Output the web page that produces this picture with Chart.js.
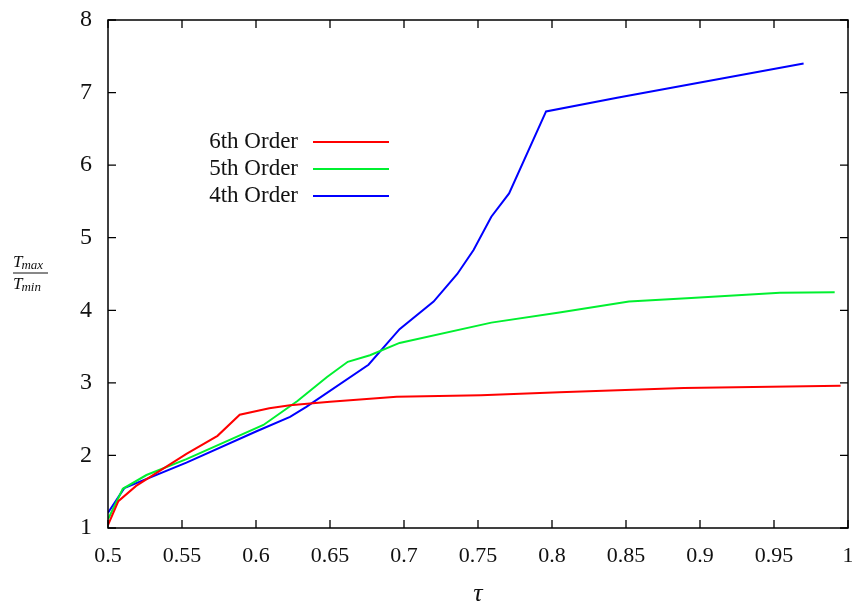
<!DOCTYPE html>
<html>
<head>
<meta charset="utf-8">
<title>Tmax/Tmin vs tau</title>
<script src="https://cdn.jsdelivr.net/npm/chart.js@4.4.0/dist/chart.umd.min.js"></script>
<style>
  html, body { margin: 0; padding: 0; background: #fff; }
  #wrap { width: 852px; height: 606px; position: relative; }
</style>
</head>
<body>
<div id="wrap"><canvas id="ratioChart"></canvas></div>
<script>
// tau values and Tmax/Tmin for each order
const tau6 = [0.500, 0.507, 0.519, 0.553, 0.574, 0.589, 0.609, 0.623, 0.650, 0.695, 0.752, 0.805, 0.889, 0.995];
const ratio6 = [1.04, 1.37, 1.58, 2.02, 2.27, 2.56, 2.65, 2.69, 2.74, 2.81, 2.83, 2.87, 2.93, 2.96];

const tau5 = [0.500, 0.510, 0.526, 0.553, 0.605, 0.628, 0.648, 0.662, 0.677, 0.697, 0.759, 0.805, 0.852, 0.894, 0.954, 0.991];
const ratio5 = [1.12, 1.54, 1.73, 1.95, 2.42, 2.75, 3.08, 3.29, 3.38, 3.55, 3.83, 3.97, 4.12, 4.17, 4.24, 4.25];

const tau4 = [0.500, 0.511, 0.553, 0.600, 0.623, 0.634, 0.676, 0.697, 0.720, 0.736, 0.747, 0.759, 0.771, 0.796, 0.844, 0.970];
const ratio4 = [1.21, 1.55, 1.90, 2.33, 2.53, 2.67, 3.25, 3.74, 4.12, 4.50, 4.83, 5.29, 5.61, 6.74, 6.93, 7.40];

const seriesNames = ['6th Order', '5th Order', '4th Order'];
const seriesColors = ['#ff0000', '#00f030', '#0000ff'];

const serif = '"Liberation Serif", "DejaVu Serif", serif';

function toPoints(xs, ys) {
    return xs.map((x, i) => ({ x: x, y: ys[i] }));
}

const data = {
    datasets: [
        { label: seriesNames[0], data: toPoints(tau6, ratio6), borderColor: seriesColors[0] },
        { label: seriesNames[1], data: toPoints(tau5, ratio5), borderColor: seriesColors[1] },
        { label: seriesNames[2], data: toPoints(tau4, ratio4), borderColor: seriesColors[2] }
    ].map(d => Object.assign(d, { borderWidth: 2, pointRadius: 0, tension: 0, fill: false }))
};

// box around the plot with inward ticks on all four sides
const frame = {
    id: 'frame',
    afterDraw(chart) {
        const { ctx, chartArea: a, scales } = chart;
        const len = 8;
        ctx.save();
        ctx.strokeStyle = '#000';
        ctx.lineWidth = 1.5;
        ctx.strokeRect(a.left, a.top, a.right - a.left, a.bottom - a.top);
        ctx.lineWidth = 1.3;
        ctx.beginPath();
        scales.x.ticks.forEach(t => {
            const px = scales.x.getPixelForValue(t.value);
            ctx.moveTo(px, a.bottom); ctx.lineTo(px, a.bottom - len);
            ctx.moveTo(px, a.top); ctx.lineTo(px, a.top + len);
        });
        scales.y.ticks.forEach(t => {
            const py = scales.y.getPixelForValue(t.value);
            ctx.moveTo(a.left, py); ctx.lineTo(a.left + len, py);
            ctx.moveTo(a.right, py); ctx.lineTo(a.right - len, py);
        });
        ctx.stroke();
        ctx.restore();
    }
};

// legend: right-aligned names followed by a line sample
const lineKey = {
    id: 'lineKey',
    afterDraw(chart) {
        const ctx = chart.ctx;
        ctx.save();
        ctx.font = '23px ' + serif;
        ctx.textAlign = 'right';
        ctx.textBaseline = 'middle';
        chart.data.datasets.forEach((ds, i) => {
            const y = 142 + i * 27;
            ctx.fillStyle = '#111';
            ctx.fillText(ds.label, 298, y);
            ctx.strokeStyle = ds.borderColor;
            ctx.lineWidth = 2;
            ctx.beginPath();
            ctx.moveTo(313, y);
            ctx.lineTo(389, y);
            ctx.stroke();
        });
        ctx.restore();
    }
};

// y axis title drawn as a fraction Tmax / Tmin
const ratioTitle = {
    id: 'ratioTitle',
    afterDraw(chart) {
        const ctx = chart.ctx;
        const x0 = 13, yLine = 273;
        ctx.save();
        ctx.fillStyle = '#111';
        ctx.textBaseline = 'alphabetic';
        const part = (main, sub, base) => {
            ctx.font = 'italic 17px ' + serif;
            ctx.fillText(main, x0, base);
            const w = ctx.measureText(main).width;
            ctx.font = 'italic 13px ' + serif;
            ctx.fillText(sub, x0 + w - 1, base + 2);
        };
        part('T', 'max', yLine - 6);
        part('T', 'min', yLine + 16);
        ctx.strokeStyle = '#111';
        ctx.lineWidth = 1;
        ctx.beginPath();
        ctx.moveTo(x0, yLine);
        ctx.lineTo(x0 + 35, yLine);
        ctx.stroke();
        ctx.restore();
    }
};

const config = {
    type: 'line',
    data: data,
    options: {
        responsive: true,
        maintainAspectRatio: false,
        animation: false,
        layout: { padding: { top: 20, right: 4, left: 0, bottom: 0 } },
        plugins: {
            legend: { display: false },
            title: { display: false },
            tooltip: { enabled: false }
        },
        scales: {
            x: {
                type: 'linear',
                min: 0.5,
                max: 1,
                grid: { display: false, drawTicks: false },
                border: { display: false },
                ticks: {
                    stepSize: 0.05,
                    padding: 15,
                    color: '#111',
                    font: { family: serif, size: 22 },
                    callback: v => String(Number(v.toFixed(2)))
                },
                title: {
                    display: true,
                    text: 'τ',
                    color: '#111',
                    padding: { top: 0, bottom: -4 },
                    font: { family: serif, size: 26, style: 'italic' }
                },
                afterFit: s => {
                    s.height = 78;
                    s.paddingLeft = 0;
                    s.paddingRight = 0;
                }
            },
            y: {
                min: 1,
                max: 8,
                grid: { display: false, drawTicks: false },
                border: { display: false },
                ticks: {
                    stepSize: 1,
                    padding: 16,
                    color: '#111',
                    font: { family: serif, size: 24 }
                },
                afterFit: s => {
                    s.width = 108;
                    s.paddingTop = 0;
                    s.paddingBottom = 0;
                }
            }
        }
    },
    plugins: [frame, lineKey, ratioTitle]
};

function initializeChart() {
    const ctx = document.getElementById('ratioChart').getContext('2d');
    new Chart(ctx, config);
}

document.addEventListener('DOMContentLoaded', initializeChart);
</script>
</body>
</html>
